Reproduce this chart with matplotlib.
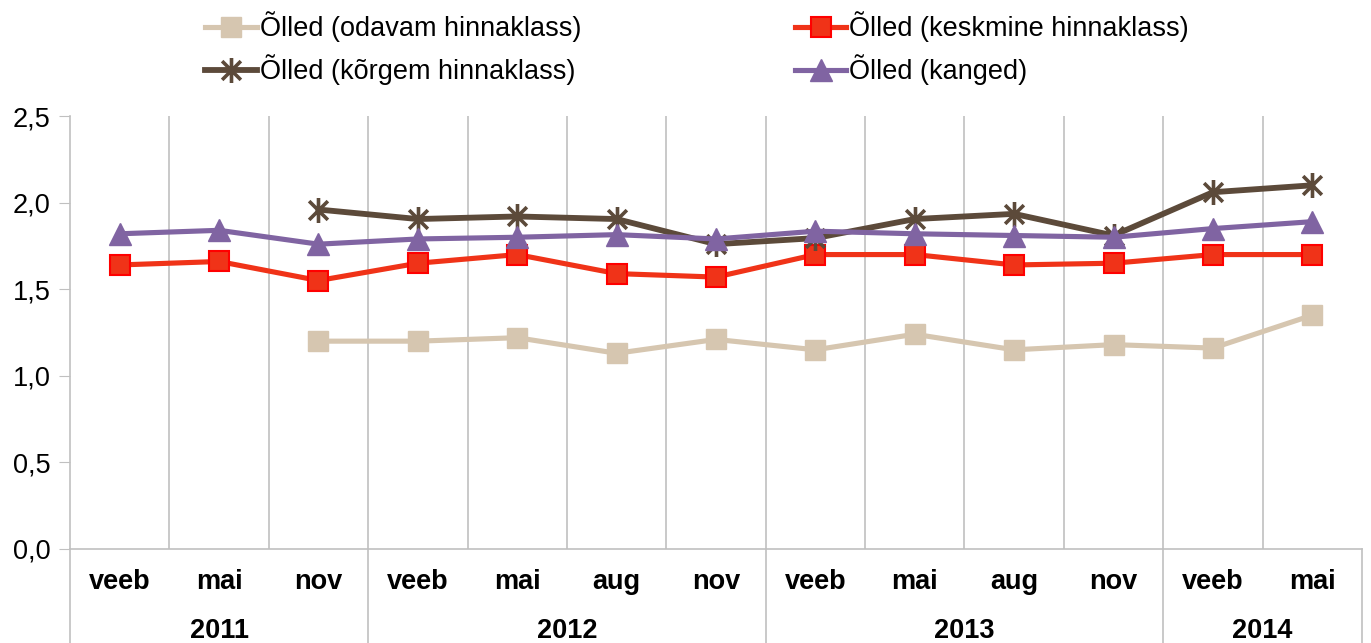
import matplotlib
matplotlib.use('Agg')
import matplotlib.pyplot as plt
from matplotlib.path import Path
import numpy as np

plt.rcParams['font.family'] = ['Liberation Sans', 'DejaVu Sans']

months = ["veeb", "mai", "nov", "veeb", "mai", "aug", "nov",
          "veeb", "mai", "aug", "nov", "veeb", "mai"]
years = ["2011", "2012", "2013", "2014"]
year_sizes = [3, 4, 4, 2]

odavam = [np.nan, np.nan, 1.20, 1.20, 1.22, 1.13, 1.21, 1.15, 1.24, 1.15, 1.18, 1.16, 1.35]
keskmine = [1.64, 1.66, 1.55, 1.65, 1.70, 1.59, 1.57, 1.70, 1.70, 1.64, 1.65, 1.70, 1.70]
korgem = [np.nan, np.nan, 1.96, 1.905, 1.92, 1.905, 1.76, 1.795, 1.905, 1.935, 1.81, 2.06, 2.10]
kanged = [1.82, 1.84, 1.76, 1.79, 1.80, 1.815, 1.79, 1.835, 1.82, 1.81, 1.80, 1.85, 1.89]

# excel style star: vertical bar + x
star = Path([(0, -1), (0, 1), (-0.75, -0.75), (0.75, 0.75), (-0.75, 0.75), (0.75, -0.75)],
            [Path.MOVETO, Path.LINETO, Path.MOVETO, Path.LINETO, Path.MOVETO, Path.LINETO])

fig = plt.figure(figsize=(13.71, 6.43), dpi=100)
ax = fig.add_axes([70/1371, 94/643, 1292/1371, 433/643])

x = np.arange(len(months))
l1, = ax.plot(x, odavam, color='#d6c6b0', lw=3.7, marker='s', ms=14, mec='#d6c6b0',
              label='Õlled (odavam hinnaklass)', zorder=3)
l2, = ax.plot(x, keskmine, color='#f03318', lw=3.7, marker='s', ms=14, mec='#ff0000',
              mew=1.5, label='Õlled (keskmine hinnaklass)', zorder=3)
l3, = ax.plot(x, korgem, color='#5c4a3a', lw=4.2, marker=star, ms=18, mew=2.6, mfc='none',
              label='Õlled (kõrgem hinnaklass)', zorder=4)
l4, = ax.plot(x, kanged, color='#8064a2', lw=3.7, marker='^', ms=16,
              label='Õlled (kanged)', zorder=5)

ax.set_xlim(-0.5, len(months) - 0.5)
ax.set_ylim(0, 2.5)
ax.set_yticks(np.arange(0, 2.51, 0.5))
ax.set_yticklabels([f"{v:.1f}".replace('.', ',') for v in np.arange(0, 2.51, 0.5)], fontsize=19.5)
ax.tick_params(axis='y', length=8, color='#c0c0c0', pad=6)
ax.tick_params(axis='x', length=0)
ax.set_xticks([])

for b in np.arange(0.5, len(months) - 0.5, 1):
    ax.axvline(b, color='#c0c0c0', lw=1.2, zorder=1)

for s in ['top', 'right']:
    ax.spines[s].set_visible(False)
for s in ['left', 'bottom']:
    ax.spines[s].set_color('#c0c0c0')
    ax.spines[s].set_linewidth(1.2)

# two level category axis
trans = ax.get_xaxis_transform()
for i, m in enumerate(months):
    ax.text(i, -0.077, m, transform=trans, ha='center', va='center',
            fontsize=19.5, fontweight='bold')
start = 0
bounds = [-0.5]
for y, n in zip(years, year_sizes):
    ax.text(start + (n - 1) / 2, -0.19, y, transform=trans, ha='center', va='center',
            fontsize=19.5, fontweight='bold')
    start += n
    bounds.append(start - 0.5)
for b in bounds:
    ax.plot([b, b], [0, -0.23], transform=trans, color='#c0c0c0', lw=1.2, clip_on=False)

fig.legend([l1, l3, l2, l4], [l.get_label() for l in [l1, l3, l2, l4]],
           loc='upper left', bbox_to_anchor=(181/1371, 1.02), ncol=2, frameon=False,
           fontsize=19.5, columnspacing=7.9, handlelength=1.9, handletextpad=0.1,
           labelspacing=0.45)

fig.savefig('out.png', dpi=100)
